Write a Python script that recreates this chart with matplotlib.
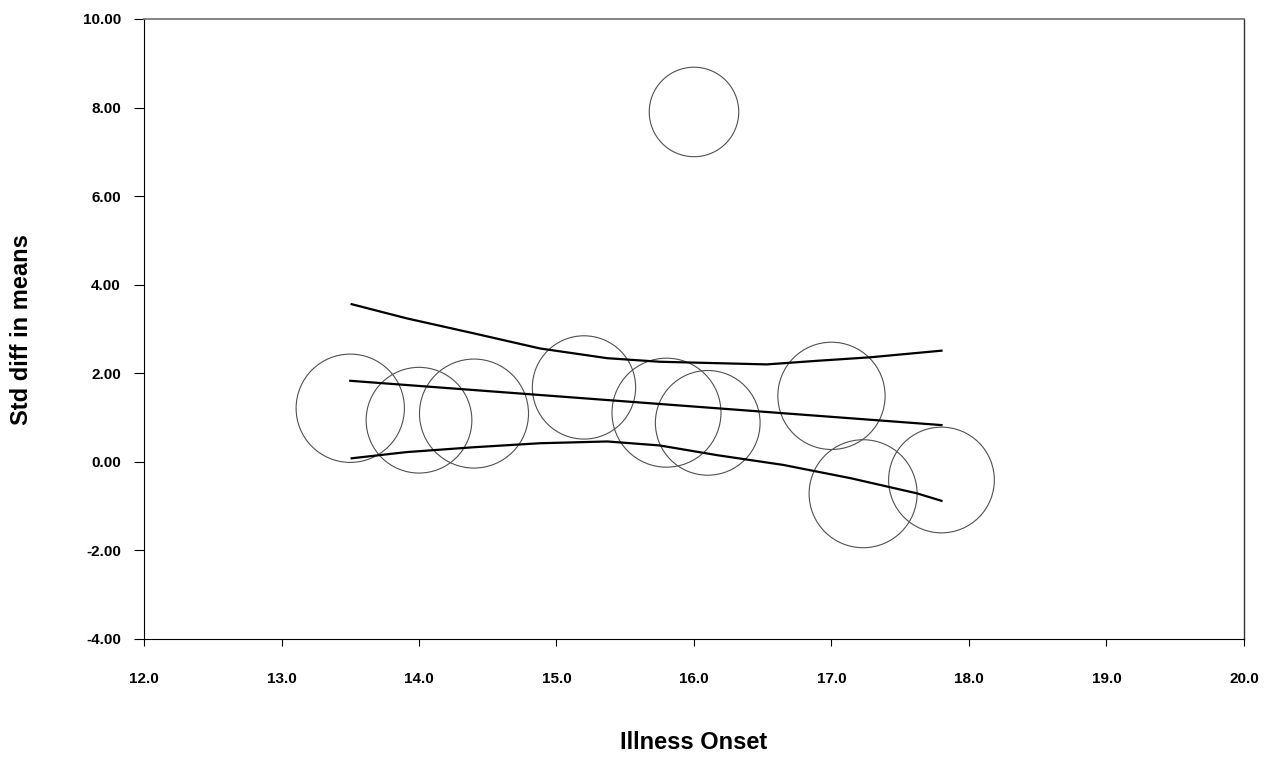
import numpy as np
import matplotlib
matplotlib.use('Agg')
from matplotlib import pyplot as plt

plt.rcParams['font.family'] = ['Liberation Sans', 'DejaVu Sans']

# Study points (illness onset vs. std diff in means) and relative weights (%)
onset = [13.5, 14.0, 14.4, 15.2, 15.8, 16.1, 17.0, 17.23, 17.8, 16.0]
smd = [1.21, 0.94, 1.09, 1.68, 1.11, 0.88, 1.49, -0.72, -0.41, 7.90]
weight = [10.60, 10.10, 10.74, 9.64, 10.74, 9.91, 10.40, 10.54, 10.10, 7.24]

# Regression line and confidence limits
fit_x = [13.5, 17.8]
fit_y = [1.83, 0.83]
upper_x = [13.51, 13.91, 14.40, 14.88, 15.37, 15.75, 16.53, 16.89, 17.28, 17.80]
upper_y = [3.56, 3.24, 2.90, 2.56, 2.34, 2.26, 2.20, 2.28, 2.36, 2.51]
lower_x = [13.51, 13.91, 14.40, 14.88, 15.37, 15.75, 16.17, 16.65, 17.14, 17.62, 17.80]
lower_y = [0.08, 0.22, 0.33, 0.42, 0.46, 0.37, 0.15, -0.07, -0.37, -0.71, -0.88]

x_ticks = np.arange(12.0, 20.01, 1.0)
y_ticks = np.arange(-4.0, 10.01, 2.0)

fig = plt.figure(figsize=(12.79, 7.58), dpi=100)
ax = fig.add_axes([0.1126, 0.157, 0.86, 0.818])

ax.scatter(onset, smd, s=np.array(weight) * 573.6, facecolors='none',
           edgecolors='#505050', linewidths=0.8, zorder=2)
ax.plot(fit_x, fit_y, color='black', lw=1.6, zorder=3)
ax.plot(upper_x, upper_y, color='black', lw=1.6, zorder=3)
ax.plot(lower_x, lower_y, color='black', lw=1.6, zorder=3)

ax.set_xlim(12.0, 20.0)
ax.set_ylim(-4.0, 10.0)
ax.set_xticks(x_ticks)
ax.set_yticks(y_ticks)
ax.set_xticklabels(['%.1f' % v for v in x_ticks])
ax.set_yticklabels(['%.2f' % v for v in y_ticks])
ax.tick_params(axis='x', length=5, width=0.8, pad=18.5, labelsize=11)
ax.tick_params(axis='y', length=7.2, width=0.8, pad=9.5, labelsize=11)
for lab in ax.get_xticklabels() + ax.get_yticklabels():
    lab.set_fontweight('bold')

ax.spines['left'].set_linewidth(0.8)
ax.spines['bottom'].set_linewidth(0.8)
ax.spines['top'].set_color('#707070')
ax.spines['top'].set_linewidth(1.2)
ax.spines['right'].set_color('#333333')
ax.spines['right'].set_linewidth(1.0)

fig.text(0.5426, 0.0211, 'Illness Onset', ha='center', va='center',
         fontsize=17, fontweight='bold')
fig.text(0.0172, 0.5646, 'Std diff in means', ha='center', va='center',
         rotation=90, fontsize=17, fontweight='bold')

fig.savefig('out.png', dpi=100)
